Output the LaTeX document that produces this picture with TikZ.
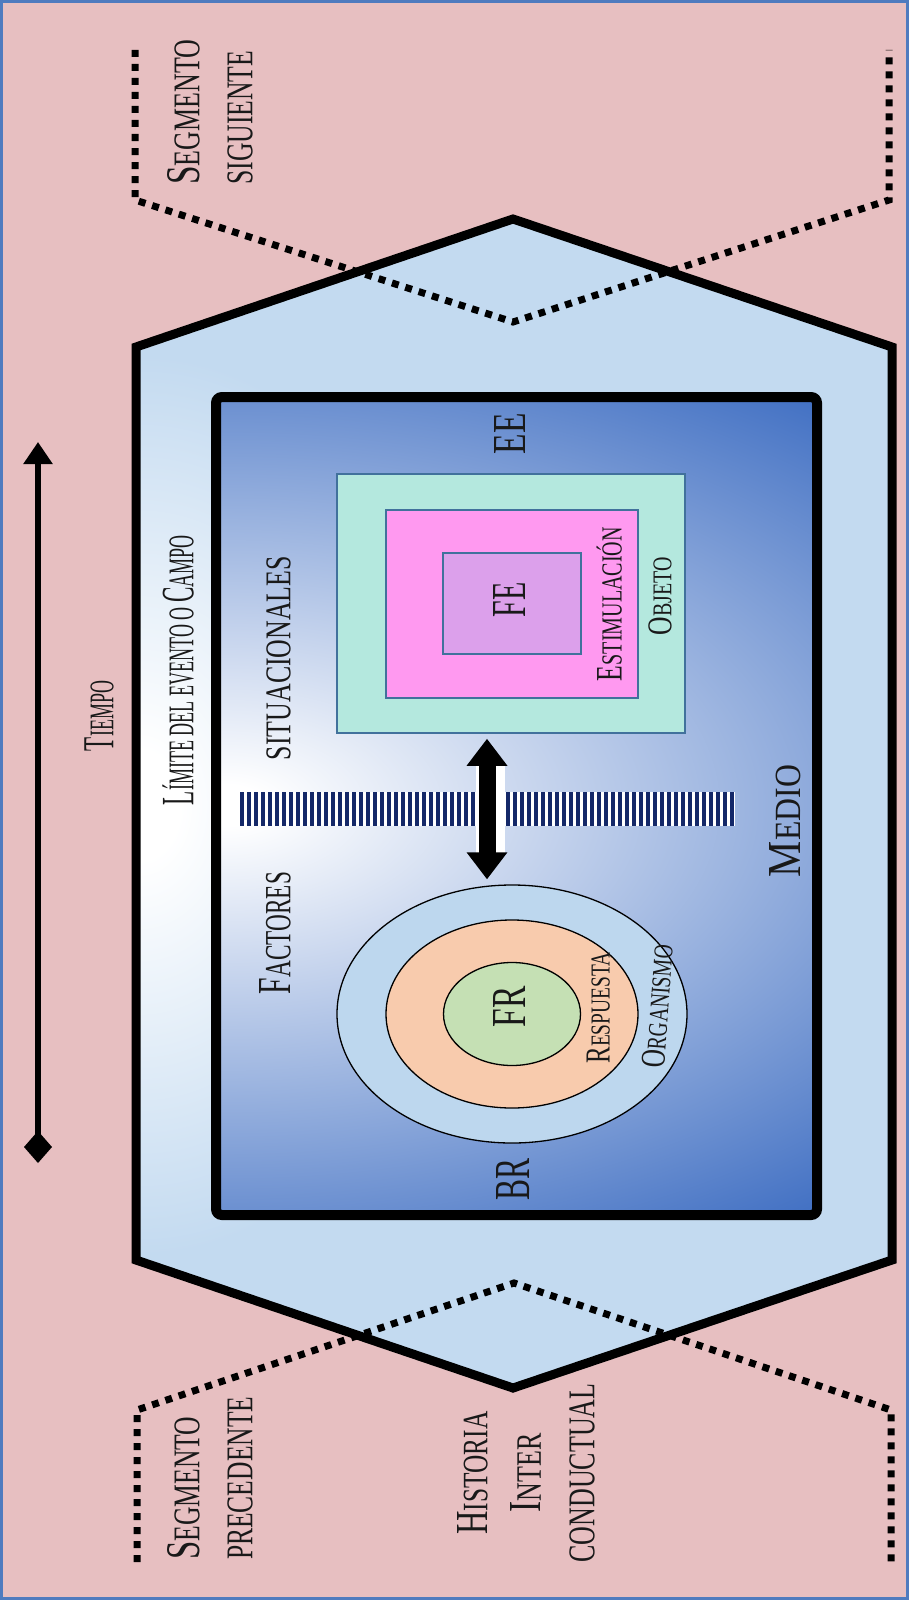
\documentclass[tikz,border=0pt]{standalone}
\usepackage{fontspec}
\setmainfont{Liberation Serif}
\usepackage{graphicx}
\usetikzlibrary{shapes.geometric,arrows.meta}
\definecolor{bgpink}{HTML}{E7BFC1}
\definecolor{framebl}{HTML}{4F7BBF}
\definecolor{hexblue}{HTML}{C3DAF0}
\definecolor{rectblue}{HTML}{4472C4}
\definecolor{teal1}{HTML}{B4E8DE}
\definecolor{mag1}{HTML}{FF99F0}
\definecolor{lav1}{HTML}{DCA0EB}
\definecolor{boxline}{HTML}{41719C}
\definecolor{orgblue}{HTML}{BDD7EE}
\definecolor{peach}{HTML}{F8CBAD}
\definecolor{green1}{HTML}{C5E0B4}
\definecolor{navy1}{HTML}{142868}
\pgfdeclareradialshading{hexshade}{\pgfpoint{0bp}{0bp}}{color(0bp)=(white); color(3bp)=(white); color(25bp)=(hexblue); color(50bp)=(hexblue)}
\pgfdeclareradialshading{innershade}{\pgfpoint{0bp}{0bp}}{color(0bp)=(white); color(1bp)=(white); color(25bp)=(rectblue); color(50bp)=(rectblue)}
\newcommand\smc[1]{{\fontsize{31.2}{36}\selectfont #1}}
\newcommand\fit[3]{\resizebox{#1pt}{#2pt}{\fontsize{40}{48}\selectfont #3}}
\begin{document}
\begin{tikzpicture}[x=1pt,y=-1pt,
  lbl/.style={rotate=90, inner sep=0pt, anchor=south, text=black!90},
  box/.style={draw=boxline, line width=1.5pt, inner sep=0pt, rectangle},
  ring/.style={draw=black, line width=1.3pt, ellipse, inner sep=0pt},
  dotline/.style={line width=7pt, dash pattern=on 7pt off 7pt, black},
]
\useasboundingbox (0,0) rectangle (909,1600);
\fill[bgpink] (0,0) rectangle (909,1600);

% outer hexagon
\begin{scope}
\clip (136,347) -- (513,219) -- (892,347) -- (892,1260) -- (513,1388) -- (136,1260) -- cycle;
\fill[hexblue] (0,0) rectangle (909,1600);
\shade[shading=hexshade] (140,805) ellipse [x radius=330, y radius=450];
\end{scope}
\draw[line width=9pt, line join=miter] (136,347) -- (513,219) -- (892,347) -- (892,1260) -- (513,1388) -- (136,1260) -- cycle;

% inner rectangle
\begin{scope}
\clip[rounded corners=6pt] (216,397) rectangle (817,1215);
\fill[rectblue] (0,0) rectangle (909,1600);
\shade[shading=innershade] (225,805) ellipse [x radius=950, y radius=510];
\end{scope}
\draw[line width=10pt, rounded corners=6pt] (216,397) rectangle (817,1215);

% dotted segment outlines
\draw[dotline] (135,50) -- (135,200) -- (513,322) -- (889,200) -- (889,50);
\draw[dotline] (137,1562) -- (137,1410) -- (514,1283) -- (891,1410) -- (891,1562);

% nested rectangles
\node[box, fill=teal1, minimum width=348pt, minimum height=259pt] (obj) at (511,603.5) {};
\node[box, fill=mag1, minimum width=252pt, minimum height=188pt] (est) at (512,604) {};
\node[box, fill=lav1, minimum width=138pt, minimum height=101pt] (fe) at (512,603.5) {};

% nested ellipses
\node[ring, fill=orgblue, minimum width=350pt, minimum height=258pt] (org) at (512,1014) {};
\node[ring, fill=peach, minimum width=252pt, minimum height=188pt] (resp) at (512,1014) {};
\node[ring, fill=green1, minimum width=137pt, minimum height=103pt] (fr) at (512,1014) {};

% striped band
\fill[white] (240,792) rectangle (735,826);
\draw[navy1, line width=34pt, dash pattern=on 3.5pt off 3.5pt] (240,809) -- (735,809);

% double arrow
\fill[white] (476,762) rectangle (505,855);
\draw[line width=17pt, {Triangle[width=39pt,length=27pt]}-{Triangle[width=39pt,length=27pt]}]
  ([xshift=-24pt,yshift=-5pt]obj.south) -- ([xshift=-25pt,yshift=5pt]org.north);

% time arrow
\coordinate (t0) at (38,1163);
\coordinate (t1) at (38,442);
\draw[line width=6pt, {Diamond[width=28pt,length=32pt]}-{Triangle[width=28pt,length=22pt]}] (t0) -- (t1);

% frame
\draw[framebl, line width=3pt] (1.5,1.5) rectangle (907.5,1598.5);

% labels
\node[lbl, align=left, anchor=south west, font=\fontsize{40}{53}\selectfont] (segsig) at (253,185)
  {\fit{145}{32}{S\smc{EGMENTO}}\\\fit{134}{25}{\smc{SIGUIENTE}}};
\node[lbl, align=left, anchor=south west, font=\fontsize{40}{53}\selectfont] (segpre) at (253,1560)
  {\fit{143}{32}{S\smc{EGMENTO}}\\\fit{163}{25}{\smc{PRECEDENTE}}};
\node[lbl, align=center, font=\fontsize{40}{53.5}\selectfont] (hist) at (595,1473)
  {\fit{123}{30}{H\smc{ISTORIA}}\\\fit{79}{30}{I\smc{NTER}}\\\fit{179}{25}{\smc{CONDUCTUAL}}};
\node[lbl] (tiempo) at (114,716) {\fit{70}{29}{T\smc{IEMPO}}};
\node[lbl] (limite) at (194,670) {\fit{270}{31}{L\smc{ÍMITE DEL EVENTO O }C\smc{AMPO}}};
\node[lbl] (fact) at (291,933) {\fit{122}{31}{F\smc{ACTORES}}};
\node[lbl] (situ) at (291,658) {\fit{204}{24}{\smc{SITUACIONALES}}};
\node[lbl] (ee) at (526,434) {\fit{41}{31}{EE}};
\node[lbl] (medio) at (801,821) {\fit{112}{31}{M\smc{EDIO}}};
\node[lbl] (br) at (530,1179) {\fit{42}{33}{BR}};
\node[lbl] (fetxt) at (526,600) {\fit{35}{32}{FE}};
\node[lbl] (frtxt) at (526,1007) {\fit{41}{32}{FR}};
\node[lbl] (esttxt) at (622,604) {\fit{154}{25}{E\smc{STIMULACIÓN}}};
\node[lbl] (objtxt) at (672,596) {\fit{78}{23}{O\smc{BJETO}}};
\node[lbl] (resptxt) at (610,1008) {\fit{111}{23}{R\smc{ESPUESTA}}};
\node[lbl, rotate=-4] (orgtxt) at (669,1007) {\fit{123}{23}{O\smc{RGANISMO}}};
\end{tikzpicture}
\end{document}
